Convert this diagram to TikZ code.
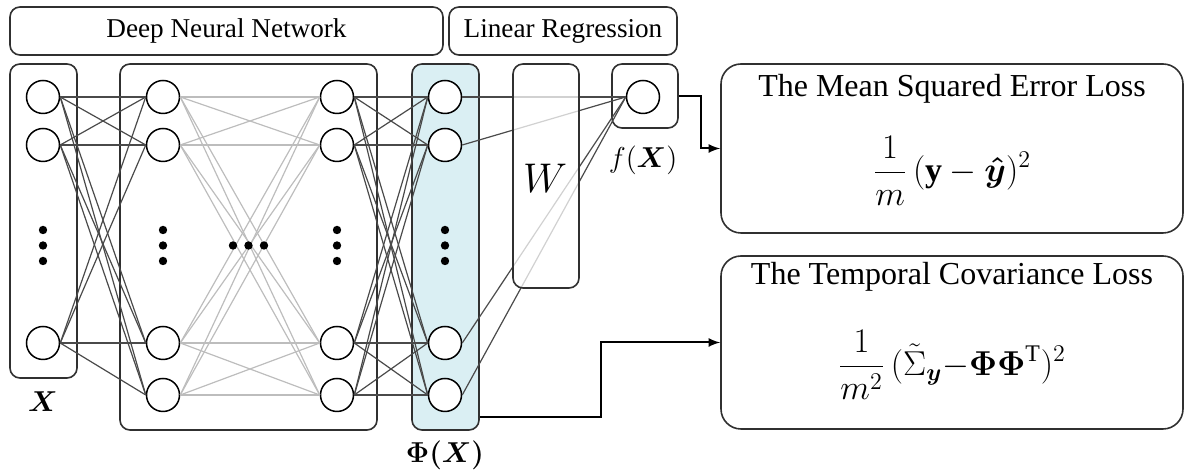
\documentclass[tikz,border=0pt]{standalone}
\usepackage{fontspec}
\setmainfont{Liberation Serif}
\usetikzlibrary{calc}
\definecolor{boxgray}{HTML}{303030}
\definecolor{edgedark}{HTML}{4A4A4A}
\definecolor{edgelight}{HTML}{BDBDBD}
\definecolor{phifill}{HTML}{DAEFF3}
\newcommand{\boldm}[1]{\mbox{\mathversion{bold}$#1$}}

\begin{document}
\begin{tikzpicture}[x=0.5pt,y=-0.5pt,>=latex,
		neuron/.style={draw,circle,fill=white,line width=0.75pt,minimum size=16.5pt,inner sep=0pt},
		group/.style={draw=boxgray,rounded corners=5pt,line width=0.8pt,inner sep=0pt},
		lossbox/.style={group,rounded corners=10pt},
		darkedge/.style={draw=edgedark,line width=0.6pt},
		lightedge/.style={draw=edgelight,line width=0.6pt},
		headtext/.style={font=\fontsize{13.6}{16}\selectfont},
		losstext/.style={font=\fontsize{16}{19}\selectfont},
		lossmath/.style={font=\fontsize{17}{20}\selectfont},
		varlabel/.style={font=\fontsize{14.5}{17}\selectfont}]
		\useasboundingbox (0,0) rectangle (1185,474);

		\node [group] (dnn) at (226.5,31) [minimum width=216.5pt,minimum height=24pt,headtext] {Deep Neural Network};
		\node [group] (lr) at (563,31) [minimum width=114pt,minimum height=24pt,headtext] {Linear Regression};

		\node [group,minimum width=33.5pt,minimum height=157pt] (inbox) at (43.5,221) {};
		\node [group,minimum width=128.5pt,minimum height=183pt] (hidbox) at (248.5,247) {};
		\node [group,fill=phifill,minimum width=33.5pt,minimum height=183pt] (phibox) at (445.5,247) {};
		\node [group,minimum width=33pt,minimum height=32pt] (fbox) at (645,96) {};

		\foreach \n/\y in {1/97,2/145,3/343}
			\node [neuron] (in\n) at (43,\y) {};
		\foreach \n/\y in {1/97,2/145,3/343,4/395} {
			\node [neuron] (hA\n) at (163,\y) {};
			\node [neuron] (hB\n) at (337,\y) {};
			\node [neuron] (phi\n) at (445,\y) {};
		}
		\node [neuron] (out) at (643,97) {};

		\foreach \i in {1,2,3}
			\foreach \j in {1,...,4}
				\draw [darkedge] (in\i.east) -- (hA\j.west);
		\foreach \i in {1,...,4}
			\foreach \j in {1,...,4} {
				\draw [lightedge] (hA\i.east) -- (hB\j.west);
				\draw [darkedge] (hB\i.east) -- (phi\j.west);
			}
		\foreach \i in {1,...,4}
			\draw [darkedge] (phi\i.east) -- (out.west);

		\foreach \x in {43,163,337,445}
			\foreach \y in {230,245.5,261}
				\fill (\x,\y) circle [radius=2.1pt];
		\foreach \x in {233,248.5,264}
			\fill (\x,245.5) circle [radius=2.1pt];

		\node [group,fill=white,fill opacity=0.75,minimum width=33pt,minimum height=112pt] (wbox) at (546,176) {};
		\node [font=\fontsize{21}{24}\selectfont] (wlabel) at (545,178) {$W$};

		\node [varlabel] (xlabel) at (43,402) {\boldm{X}};
		\node [varlabel] (philabel) at (445,455) {\boldm{\Phi(X)}};
		\node [varlabel] (flabel) at (643,160) {$f($\boldm{X}$)$};

		\node [lossbox,minimum width=231pt,minimum height=84.5pt] (mse) at (952,148.5) {};
		\node [lossbox,minimum width=231pt,minimum height=86.5pt] (tcl) at (952,342.5) {};

		\node [losstext] (msetitle) at ($(mse.north)+(0,26)$) {The Mean Squared Error Loss};
		\node [lossmath] (mseform) at ($(mse.center)+(0,22)$) {$\displaystyle\frac{1}{m}\,(\mathbf{y}-\boldm{\hat{y}})^2$};
		\node [losstext] (tcltitle) at ($(tcl.north)+(0,22)$) {The Temporal Covariance Loss};
		\node [lossmath] (tclform) at ($(tcl.center)+(0,22)$) {$\displaystyle\frac{1}{m^2}\,(\tilde{\Sigma}_{\boldm{\scriptstyle y}}{-}\boldm{\Phi\Phi}^{\rm T})^2$};

		\coordinate (tclstart) at ($(phibox.south east)+(0,-14)$);
		\draw [->,line width=1pt] (fbox.east) -- ++(22,0) |- (mse.west);
		\draw [->,line width=1pt] (tclstart) -- ++(121,0) |- (tcl.west);
	\end{tikzpicture}
\end{document}
